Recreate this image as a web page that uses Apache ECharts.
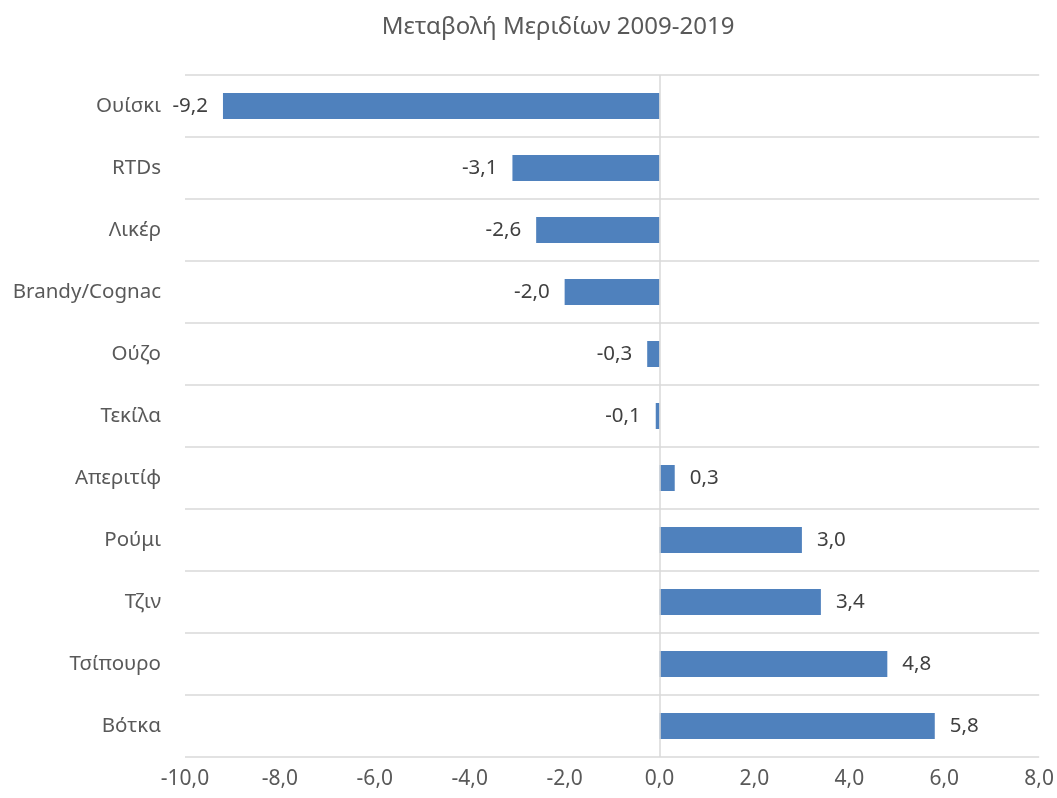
<!DOCTYPE html>
<html>
<head>
<meta charset="utf-8">
<script src="https://cdn.jsdelivr.net/npm/echarts@6/dist/echarts.min.js"></script>
<style>
html,body{margin:0;padding:0;background:#fff;}
#chart{width:1057px;height:798px;}
</style>
</head>
<body>
<div id="chart"></div>
<script>
const titleText = 'Μεταβολή Μεριδίων 2009-2019';
const categories = ['Ουίσκι','RTDs','Λικέρ','Brandy/Cognac','Ούζο','Τεκίλα','Απεριτίφ','Ρούμι','Τζιν','Τσίπουρο','Βότκα'];
const values = [-9.2, -3.1, -2.6, -2.0, -0.26, -0.08, 0.32, 3.0, 3.4, 4.8, 5.8];
const xMin = -10, xMax = 8, xStep = 2;

const fmt = v => v.toFixed(1).replace('.', ',');
const FONT = '"Noto Sans", "Open Sans", sans-serif';

const chart = echarts.init(document.getElementById('chart'), null, {renderer:'canvas'});
chart.setOption({
  animation: false,
  backgroundColor: '#ffffff',
  title: {
    text: titleText,
    left: 553, top: 10, textAlign: 'center',
    textStyle: {fontFamily: FONT, fontSize: 24, fontWeight: 'normal', color: '#595959'}
  },
  grid: {left: 185, right: 14, top: 75, bottom: 41, containLabel: false},
  xAxis: {
    type: 'value', min: xMin, max: xMax, interval: xStep,
    axisLine: {show: false}, axisTick: {show: false}, splitLine: {show: false},
    axisLabel: {formatter: v => fmt(v), fontFamily: FONT, fontSize: 21, color: '#595959', margin: 12}
  },
  yAxis: {
    type: 'category', data: categories, inverse: true,
    axisLine: {show: false}, axisTick: {show: false},
    splitLine: {show: true, lineStyle: {color: '#d9d9d9', width: 1.5}},
    axisLabel: {fontFamily: FONT, fontSize: 20.5, color: '#595959', margin: 24}
  },
  series: [{
    type: 'bar',
    data: values.map(v => ({
      value: v,
      label: {position: v < 0 ? 'left' : 'right'}
    })),
    barWidth: 26,
    itemStyle: {color: '#4f81bd'},
    label: {
      show: true, distance: 15,
      formatter: p => fmt(p.value),
      fontFamily: FONT, fontSize: 20.5, color: '#404040'
    },
    markLine: {
      silent: true, symbol: 'none', label: {show: false},
      lineStyle: {color: '#d9d9d9', width: 1.5, type: 'solid'},
      data: [{xAxis: 0}]
    }
  }]
});
</script>
</body>
</html>
